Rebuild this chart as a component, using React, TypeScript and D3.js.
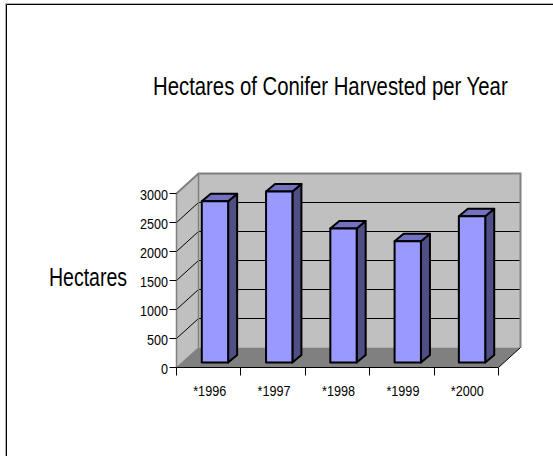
import React from "react";
import * as d3 from "d3";

const years = ["*1996", "*1997", "*1998", "*1999", "*2000"];
const hectares = [2780, 2950, 2310, 2090, 2520];
const valueTicks = [0, 500, 1000, 1500, 2000, 2500, 3000];

const FONT = "'Liberation Sans', Arial, sans-serif";
const WIDTH = 553;
const HEIGHT = 456;

// Projection of the 3D box: front plane, and the shift to the back wall
const front = { left: 176.5, right: 498.5, bottom: 367.5, top: 193.5 };
const wall = { dx: 22, dy: -20 };
const barInset = { dx: 6, dy: -5 };
const barDepth = { dx: 9, dy: -7.5 };

const x = d3.scaleBand<string>().domain(years).range([front.left, front.right]).paddingInner(0.59).paddingOuter(0.3);
const slots = d3.scaleBand<string>().domain(years).range([front.left, front.right]);
const y = d3.scaleLinear().domain([0, 3000]).range([front.bottom, front.top]);
const line = d3.line();

function poly(points: [number, number][]) {
  return line(points) + "Z";
}

const crisp = (v: number) => Math.round(v - 0.5) + 0.5;

// The chart's type is a condensed sans, so every label is squeezed horizontally
const squeeze = (px: number, py: number, sx: number) => `translate(${px},${py}) scale(${sx},1)`;

export default function App() {
  const { left, right, bottom } = front;
  const top = y(3000);
  const b = (v: number) => y(v) + wall.dy;
  const bl = left + wall.dx;
  const br = right + wall.dx;
  const grey = "#808080";

  return (
    <svg
      width={WIDTH}
      height={HEIGHT}
      viewBox={`0 0 ${WIDTH} ${HEIGHT}`}
      style={{ position: "absolute", left: 0, top: 0, background: "#fff", fontFamily: FONT }}
    >
      {/* Outer frame, open past the page edges */}
      <path d={`M5.5 ${HEIGHT + 2}V3.5H${WIDTH + 2}`} fill="none" stroke="#b0b0b0" strokeWidth={1} />
      <path d={`M6.5 ${HEIGHT + 2}V4.5H${WIDTH + 2}`} fill="none" stroke="#000" strokeWidth={1} />

      <text transform={squeeze(153, 95, 0.767)} fontSize={26.5} fill="#000">
        Hectares of Conifer Harvested per Year
      </text>
      <text transform={squeeze(49, 286, 0.75)} fontSize={26} fill="#000">
        Hectares
      </text>

      {/* Walls and floor */}
      <path d={poly([[bl, b(0)], [bl, b(3000)], [br, b(3000)], [br, b(0)]])} fill="#c0c0c0" />
      <path d={poly([[left, bottom], [left, top], [bl, b(3000)], [bl, b(0)]])} fill="#c0c0c0" />
      <path d={poly([[left, bottom], [bl, b(0)], [br, b(0)], [right, bottom]])} fill={grey} />

      {/* Gridlines carried over the side wall and back wall */}
      {valueTicks.slice(1, -1).map((v) => (
        <path key={v} d={`M${left} ${y(v)}L${bl} ${crisp(b(v))}H${br}`} fill="none" stroke="#000" strokeWidth={1} />
      ))}
      <path d={`M${left} ${top}L${bl} ${b(3000)}H${br}V${b(0)}`} fill="none" stroke={grey} strokeWidth={2} />
      <path d={`M${bl} ${b(3000)}V${b(0)}`} fill="none" stroke={grey} strokeWidth={1.5} />
      <path d={`M${left} ${bottom}V${top}`} fill="none" stroke={grey} strokeWidth={1.5} />

      {/* Bars */}
      {years.map((yr, i) => {
        const x0 = x(yr)! + barInset.dx;
        const x1 = x0 + x.bandwidth();
        const y0 = y(0) + barInset.dy;
        const y1 = y(hectares[i]) + barInset.dy;
        const { dx, dy } = barDepth;
        const style = { stroke: "#000", strokeWidth: 2, strokeLinejoin: "round" as const };
        return (
          <g key={yr}>
            <path d={poly([[x1, y0], [x1, y1], [x1 + dx, y1 + dy], [x1 + dx, y0 + dy]])} fill="#4f4f86" {...style} />
            <path d={poly([[x0, y1], [x0 + dx, y1 + dy], [x1 + dx, y1 + dy], [x1, y1]])} fill="#7272c0" {...style} />
            <rect x={x0} y={y1} width={x1 - x0} height={y0 - y1} fill="#9999ff" {...style} />
          </g>
        );
      })}

      {/* Axes on the front plane */}
      <path d={`M${left} ${bottom}H${right}L${br} ${b(0)}`} fill="none" stroke="#000" strokeWidth={1} />
      <path d={`M${left} ${bottom}L${bl} ${b(0)}`} fill="none" stroke={grey} strokeWidth={1} />
      {[...years.map((yr) => slots(yr)!), right].map((px) => (
        <line key={px} x1={crisp(px)} x2={crisp(px)} y1={bottom} y2={bottom + 8} stroke="#000" strokeWidth={1} />
      ))}
      {valueTicks.map((v) => (
        <g key={v}>
          <line x1={left - 7} x2={left} y1={crisp(y(v))} y2={crisp(y(v))} stroke="#000" strokeWidth={1} />
          <text transform={squeeze(168, y(v) + 6.5, 0.84)} fontSize={15} fill="#000" textAnchor="end">
            {v}
          </text>
        </g>
      ))}
      {years.map((yr) => (
        <text
          key={yr}
          transform={squeeze(slots(yr)! + slots.bandwidth() / 2 + 1, 396, 0.842)}
          fontSize={15}
          fill="#000"
          textAnchor="middle"
        >
          {yr}
        </text>
      ))}
    </svg>
  );
}
